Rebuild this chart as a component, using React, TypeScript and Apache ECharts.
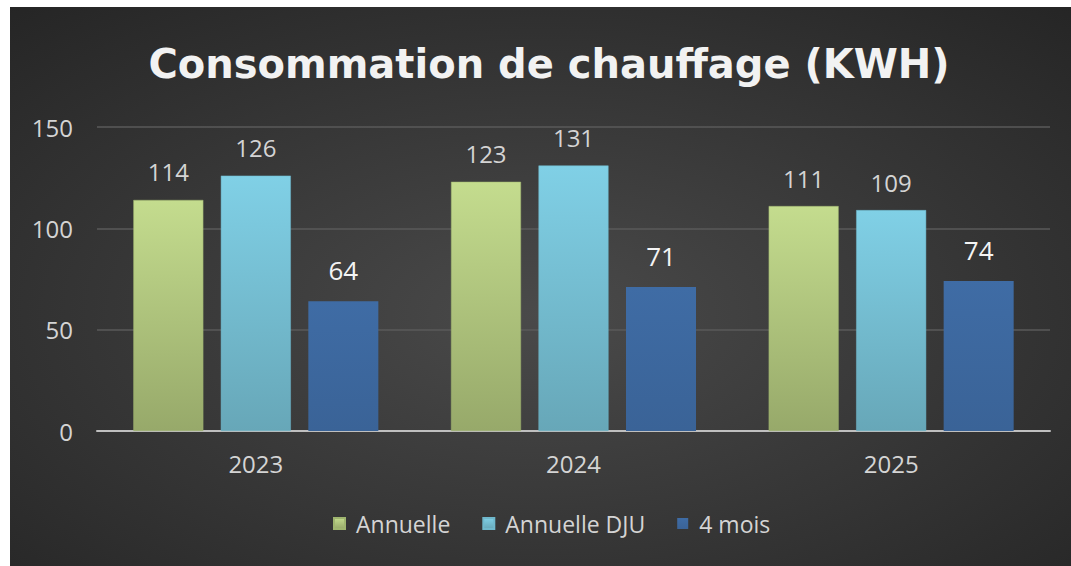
import React, { useEffect, useRef } from "react";
import * as echarts from "echarts";

const categories = ["2023", "2024", "2025"];
const annuelle = [114, 123, 111];
const annuelleDJU = [126, 131, 109];
const quatreMois = [64, 71, 74];
const yTicks = [0, 50, 100, 150];

export default function App() {
  const ref = useRef<HTMLDivElement>(null);
  useEffect(() => {
    document.body.style.margin = "0";
    const chart = echarts.init(ref.current!, null, { renderer: "svg" });
    const font = "'Open Sans', 'Noto Sans', sans-serif";
    const labelBase = {
      show: true,
      position: "top",
      distance: 16,
      fontFamily: font,
      fontSize: 24,
      color: "#d4d4d4",
    };
    chart.setOption({
      animation: false,
      backgroundColor: "#ffffff",
      graphic: [
        {
          type: "rect",
          z: -10,
          silent: true,
          shape: { x: 10, y: 7, width: 1061, height: 559 },
          style: {
            fill: {
              type: "radial",
              x: 0.5,
              y: 0.55,
              r: 0.75,
              colorStops: [
                { offset: 0, color: "#4a4a4a" },
                { offset: 1, color: "#252525" },
              ],
            },
          },
        },
      ],
      title: {
        text: "Consommation de chauffage (KWH)",
        left: 544,
        textAlign: "center",
        top: 39,
        textStyle: {
          fontFamily: "'DejaVu Sans', sans-serif",
          fontWeight: "bold",
          fontSize: 40,
          color: "#f2f2f2",
        },
      },
      legend: {
        bottom: 26,
        left: 328,
        itemWidth: 11,
        itemHeight: 11,
        itemGap: 32,
        icon: "rect",
        textStyle: { fontFamily: font, fontSize: 23, color: "#d4d4d4", padding: [0, 0, 0, 6] },
        data: ["Annuelle", "Annuelle DJU", "4 mois"],
      },
      grid: { left: 97, right: 21, top: 127, bottom: 135 },
      xAxis: {
        type: "category",
        data: categories,
        axisTick: { show: false },
        axisLine: { lineStyle: { color: "#bfbfbf", width: 2 } },
        axisLabel: { fontFamily: font, fontSize: 24, color: "#d4d4d4", margin: 20 },
      },
      yAxis: {
        type: "value",
        min: yTicks[0],
        max: yTicks[yTicks.length - 1],
        interval: 50,
        axisLine: { show: false },
        axisTick: { show: false },
        axisLabel: { fontFamily: font, fontSize: 24, color: "#d4d4d4", margin: 24 },
        splitLine: { lineStyle: { color: "#5a5a5a", width: 1.5 } },
      },
      series: [
        {
          name: "Annuelle",
          type: "bar",
          data: annuelle,
          barWidth: 70,
          barGap: "25%",
          itemStyle: {
            color: {
              type: "linear", x: 0, y: 0, x2: 0, y2: 1,
              colorStops: [
                { offset: 0, color: "#c4dc8e" },
                { offset: 1, color: "#97a96a" },
              ],
            },
            borderColor: "#9fb56f",
            borderWidth: 0.5,
          },
          label: labelBase,
        },
        {
          name: "Annuelle DJU",
          type: "bar",
          data: annuelleDJU,
          barWidth: 70,
          barGap: "25%",
          itemStyle: {
            color: {
              type: "linear", x: 0, y: 0, x2: 0, y2: 1,
              colorStops: [
                { offset: 0, color: "#80d0e6" },
                { offset: 1, color: "#67a7b8" },
              ],
            },
            borderColor: "#6fb8cc",
            borderWidth: 0.5,
          },
          label: labelBase,
        },
        {
          name: "4 mois",
          type: "bar",
          data: quatreMois,
          barWidth: 70,
          barGap: "25%",
          itemStyle: {
            color: {
              type: "linear", x: 0, y: 0, x2: 0, y2: 1,
              colorStops: [
                { offset: 0, color: "#3f6ca5" },
                { offset: 1, color: "#3a6397" },
              ],
            },
          },
          label: { ...labelBase, fontSize: 26, distance: 18, color: "#f4f4f4" },
        },
      ],
    });
    return () => chart.dispose();
  }, []);
  return <div ref={ref} style={{ width: 1071, height: 566 }} />;
}
